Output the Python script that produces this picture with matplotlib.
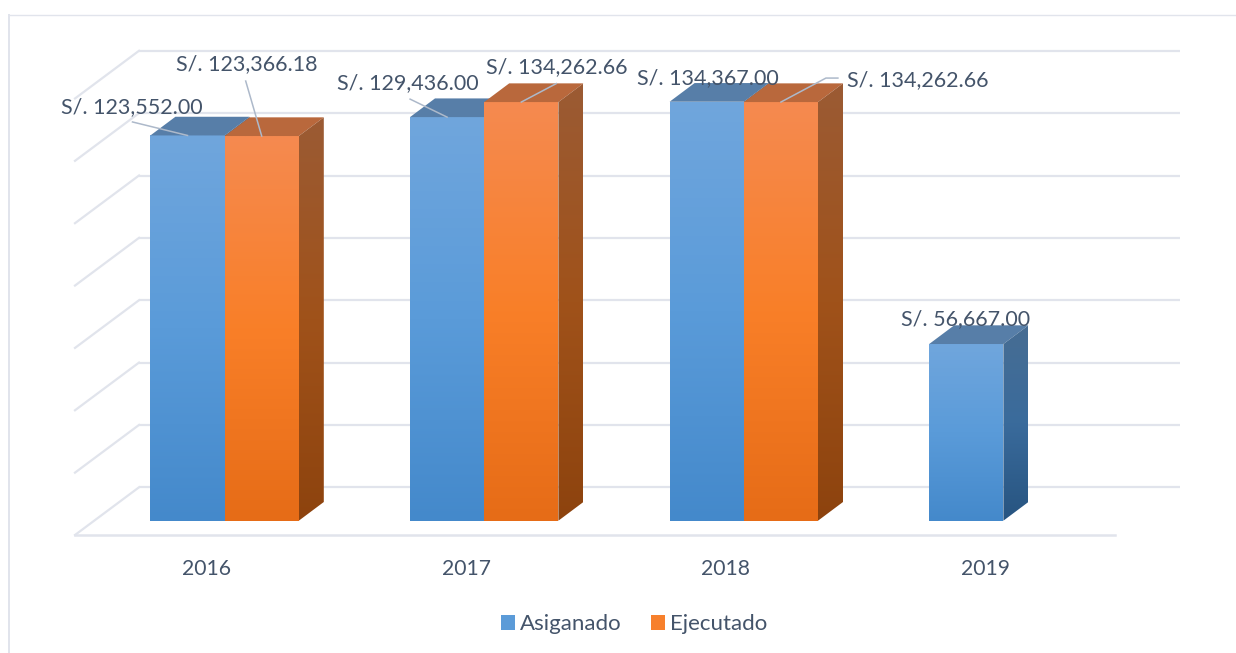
import matplotlib
matplotlib.use('Agg')
import matplotlib.pyplot as plt
import numpy as np
from matplotlib.colors import LinearSegmentedColormap
from matplotlib.patches import Patch, Polygon

years = ['2016', '2017', '2018', '2019']
asignado = [123552.00, 129436.00, 134367.00, 56667.00]
ejecutado = [123366.18, 134262.66, 134262.66, None]
series_names = ['Asiganado', 'Ejecutado']
grid_values = [0, 20000, 40000, 60000, 80000, 100000, 120000, 140000]

W, H = 1236, 653
# pixels per category and per unit of value
PX_X = 259.6
PX_Y = 3.118 / 1000
X0, Y0 = 224.6, 520.7

TEXT = '#44546a'
LINE = '#e1e4ec'
LEADER = '#adb9ca'

plt.rcParams['font.family'] = ['Lato', 'DejaVu Sans']


def dx(p):
    return p / PX_X


def dy(p):
    return p / PX_Y


def gx(p):
    return (p - X0) / PX_X


def gy(p):
    return (Y0 - p) / PX_Y


def face(ax, verts, colors, z):
    verts = np.array(verts)
    cmap = LinearSegmentedColormap.from_list('f', colors)
    grad = np.linspace(0, 1, 256).reshape(-1, 1)
    im = ax.imshow(grad, cmap=cmap, aspect='auto', origin='upper', zorder=z,
                   interpolation='bilinear',
                   extent=(verts[:, 0].min(), verts[:, 0].max(), verts[:, 1].min(), verts[:, 1].max()))
    im.set_clip_path(Polygon(verts, closed=True, transform=ax.transData))


def bar3d(ax, x0, v, front, top, side, z):
    w = dx(74.2)
    ox, oy = dx(25), dy(18.7)
    face(ax, [(x0, 0), (x0 + w, 0), (x0 + w, v), (x0, v)], front, z)
    ax.add_patch(Polygon([(x0, v), (x0 + w, v), (x0 + w + ox, v + oy), (x0 + ox, v + oy)],
                         closed=True, fc=top, ec='none', zorder=z))
    face(ax, [(x0 + w, 0), (x0 + w + ox, oy), (x0 + w + ox, v + oy), (x0 + w, v)], side, z)


fig = plt.figure(figsize=(W / 100, H / 100), dpi=100)
ax = fig.add_axes([0, 0, 1, 1])
ax.patch.set_alpha(0)

# outer chart frame, only left and top show
fig.add_artist(plt.Line2D([9 / W, 9 / W], [0, 1 - 15 / H], color=LINE, lw=1.4))
fig.add_artist(plt.Line2D([9 / W, 1], [1 - 15 / H, 1 - 15 / H], color=LINE, lw=1.0))

# back wall and side wall lines
floor_y = gy(535)
back_shift = gy(487.3)
for g in grid_values:
    yb = back_shift + g
    ax.plot([gx(139), gx(1180)], [yb, yb], color=LINE, lw=1.6, zorder=1, solid_capstyle='butt')
    ax.plot([gx(75), gx(139)], [yb - dy(47.7), yb], color=LINE, lw=1.6, zorder=1)

blue_front = ['#70a6dd', '#5a9bd9', '#4489cb']
blue_top = '#577ea8'
blue_side = ['#476d93', '#3a6b9c', '#275480']
orange_front = ['#f58a50', '#f97f28', '#e66c17']
orange_top = '#b9683c'
orange_side = ['#9b5b34', '#a0521a', '#8d430e']

w = dx(74.2)
for i in range(len(years)):
    bar3d(ax, i - w, asignado[i], blue_front, blue_top, blue_side, 3 + i)
    if ejecutado[i] is not None:
        bar3d(ax, i, ejecutado[i], orange_front, orange_top, orange_side, 3.5 + i)

# data labels, (text offset from bar front top midpoint in px) and leader points
blue_labels = [(-56, 28), (-39, 34), (1, 24), (-0.5, 25)]
orange_labels = [(-15, 72), (35, 35), (137, 21.5)]
blue_leaders = [[(-55, 13.5), (0, 0)], [(-37, 18), (0, 0)], None, None]
orange_leaders = [[(-16, 55), (0, 0)], [(35, 18.5), (0, 0)], [(57, 24), (45, 24), (0, 0)]]

for i, v in enumerate(asignado):
    xm = i - w / 2
    ox, oy = blue_labels[i]
    ax.text(xm + dx(ox), v + dy(oy), f'S/. {v:,.2f}', color=TEXT, fontsize=15.5,
            ha='center', va='center', zorder=20)
    if blue_leaders[i]:
        ax.plot([xm + dx(p[0]) for p in blue_leaders[i]], [v + dy(p[1]) for p in blue_leaders[i]],
                color=LEADER, lw=1.1, zorder=19)
for i, v in enumerate(ejecutado):
    if v is None:
        continue
    xm = i + w / 2
    ox, oy = orange_labels[i]
    ax.text(xm + dx(ox), v + dy(oy), f'S/. {v:,.2f}', color=TEXT, fontsize=15.5,
            ha='center', va='center', zorder=20)
    ax.plot([xm + dx(p[0]) for p in orange_leaders[i]], [v + dy(p[1]) for p in orange_leaders[i]],
            color=LEADER, lw=1.1, zorder=19)

ax.set_xlim(gx(0), gx(W))
ax.set_ylim(gy(H), gy(0))

# category axis is the front edge of the floor
for s in ['top', 'left', 'right']:
    ax.spines[s].set_visible(False)
ax.spines['bottom'].set_position(('data', floor_y))
ax.spines['bottom'].set_bounds(gx(75), gx(1115))
ax.spines['bottom'].set_color(LINE)
ax.spines['bottom'].set_linewidth(1.8)
ax.set_yticks([])
ax.set_xticks(np.arange(len(years)) - dx(18))
ax.set_xticklabels(years, color=TEXT, fontsize=15.2)
ax.tick_params(axis='x', length=0, pad=17)

handles = [Patch(fc='#5b9bd8', ec='none'), Patch(fc='#f7802c', ec='none')]
ax.legend(handles, series_names, ncol=2, loc='center', bbox_to_anchor=(634 / W, 1 - 624.5 / H),
          frameon=False, fontsize=16, labelcolor=TEXT, handlelength=0.63, handleheight=0.63,
          handletextpad=0.2, columnspacing=1.35, borderpad=0)

fig.savefig('out.png', dpi=100)
